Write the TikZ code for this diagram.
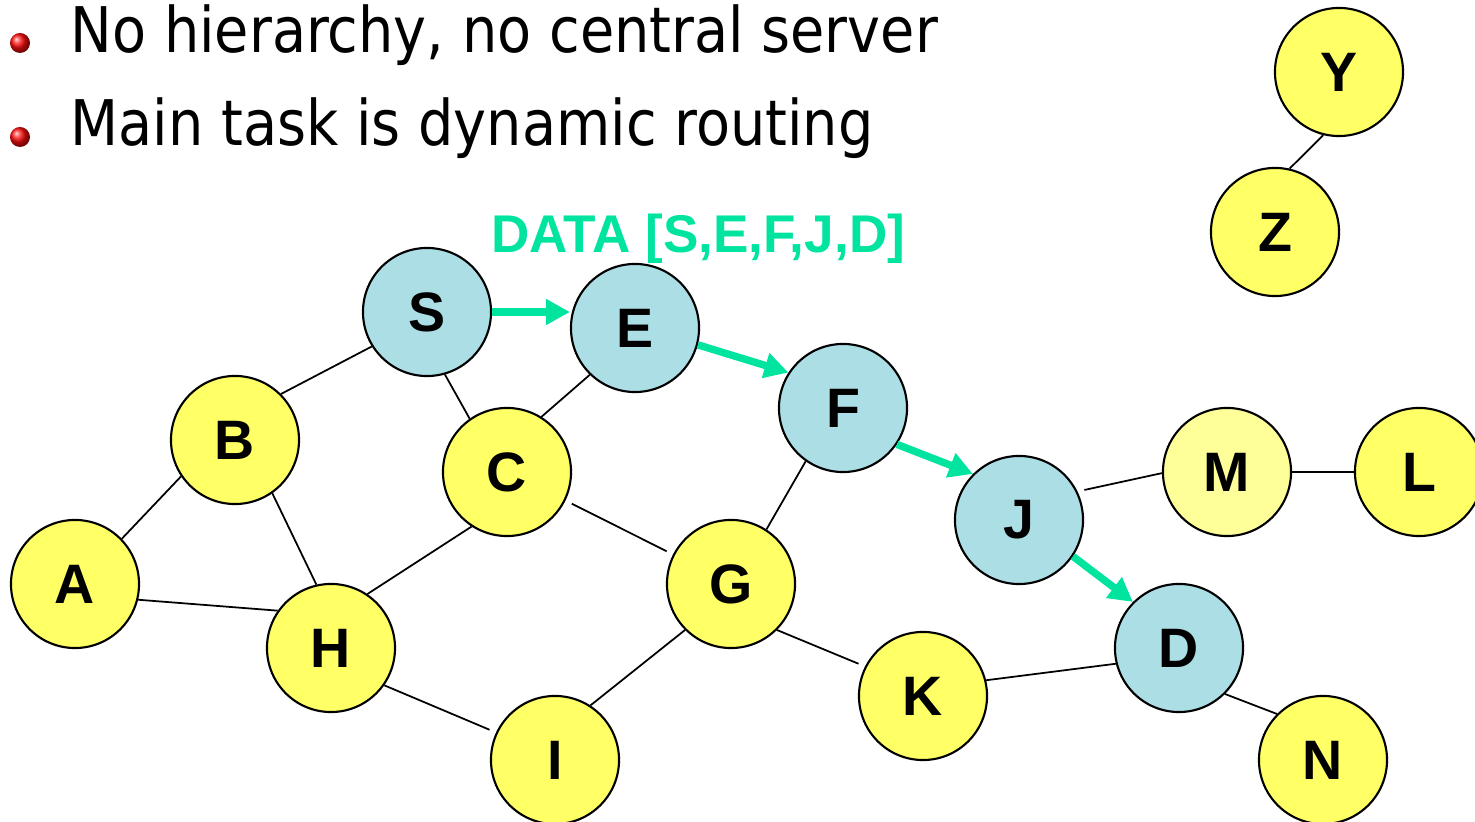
\documentclass[tikz,border=0pt]{standalone}
\usepackage{fontspec}
\setmainfont{Liberation Sans}
\newfontfamily\bulletfont[FakeStretch=0.885]{DejaVu Sans}
\usetikzlibrary{arrows.meta,backgrounds}
\definecolor{nodeyellow}{RGB}{255,255,102}
\definecolor{nodelight}{RGB}{255,255,153}
\definecolor{nodeblue}{RGB}{172,222,230}
\definecolor{routegreen}{RGB}{0,228,160}
\begin{document}
\begin{tikzpicture}[x=0.01cm,y=-0.01cm,
  peer/.style={circle, draw=black, line width=0.6pt, minimum size=1.28cm, inner sep=0pt,
    font=\fontsize{15.8}{15.8}\selectfont\bfseries},
  yel/.style={peer, fill=nodeyellow},
  lyel/.style={peer, fill=nodelight},
  blu/.style={peer, fill=nodeblue},
  edge/.style={line width=0.5pt},
  route/.style={draw=routegreen, line width=2.1pt, -{Triangle[length=6.8pt,width=7pt]}},
  bullettext/.style={anchor=base west, inner sep=0pt, font=\bulletfont\fontsize{17.9}{17.9}\selectfont},
  bulletball/.style={circle, inner sep=0pt, minimum size=0.2cm, ball color=red!95!white},
  label/.style={anchor=base, inner sep=0pt, text=routegreen, font=\fontsize{15.1}{15.1}\selectfont\bfseries}]
\clip (0,0) rectangle (1475,822);
% bullets
\node[bulletball] (b1) at (20,43) {};
\node[bulletball] (b2) at (20,137) {};
\node[bullettext] (t1) at (70,53) {No hierarchy, no central server};
\node[bullettext] (t2) at (70,146) {Main task is dynamic routing};
% nodes
\node[blu] (S) at (427,312) {S};
\node[blu] (E) at (635,328) {E};
\node[blu] (F) at (843,408) {F};
\node[blu] (J) at (1019,520) {J};
\node[blu] (D) at (1179,648) {D};
\node[yel] (Y) at (1339,72) {Y};
\node[yel] (Z) at (1275,232) {Z};
\node[yel] (B) at (235,440) {B};
\node[yel] (C) at (507,472) {C};
\node[yel] (A) at (75,584) {A};
\node[yel] (H) at (331,648) {H};
\node[yel] (G) at (731,584) {G};
\node[yel] (I) at (555,760) {I};
\node[yel] (K) at (923,696) {K};
\node[lyel] (M) at (1227,472) {M};
\node[yel] (L) at (1419,472) {L};
\node[yel] (N) at (1323,760) {N};
\node[label] (data) at (698,253) {DATA [S,E,F,J,D]};
% edges
\begin{scope}[on background layer]
\draw[edge] (B.45) -- (S.212);
\draw[edge] (S.-74) -- (C.125);
\draw[edge] (E.226) -- (C.58);
\draw[edge] (A.44) -- (B.214);
\draw[edge] (B.-55) -- (H.103);
\draw[edge] (A.-14) -- (H.145);
\draw[edge] (H.56) -- (C.237);
\draw[edge, shorten <=2pt, shorten >=2pt] (C.-26) -- (G.153);
\draw[edge] (F.235) -- (G.57);
\draw[edge] (G.225) -- (I.57);
\draw[edge, shorten >=2pt] (G.-45) -- (K.153);
\draw[edge, shorten >=2pt] (H.-35) -- (I.155);
\draw[edge] (K.14) -- (D.194);
\draw[edge] (D.-45) -- (N.135);
\draw[edge, shorten <=2pt] (J.26) -- (M.181);
\draw[edge] (M.0) -- (L.180);
\draw[edge] (Z.77) -- (Y.256);
\end{scope}
% route
\draw[route] (S.east) -- (S.east -| E.west);
\draw[route] (E.-15) -- (F.147);
\draw[route] (F.-34) -- (J.135);
\draw[route] (J.-34) -- (D.135);
\end{tikzpicture}
\end{document}
